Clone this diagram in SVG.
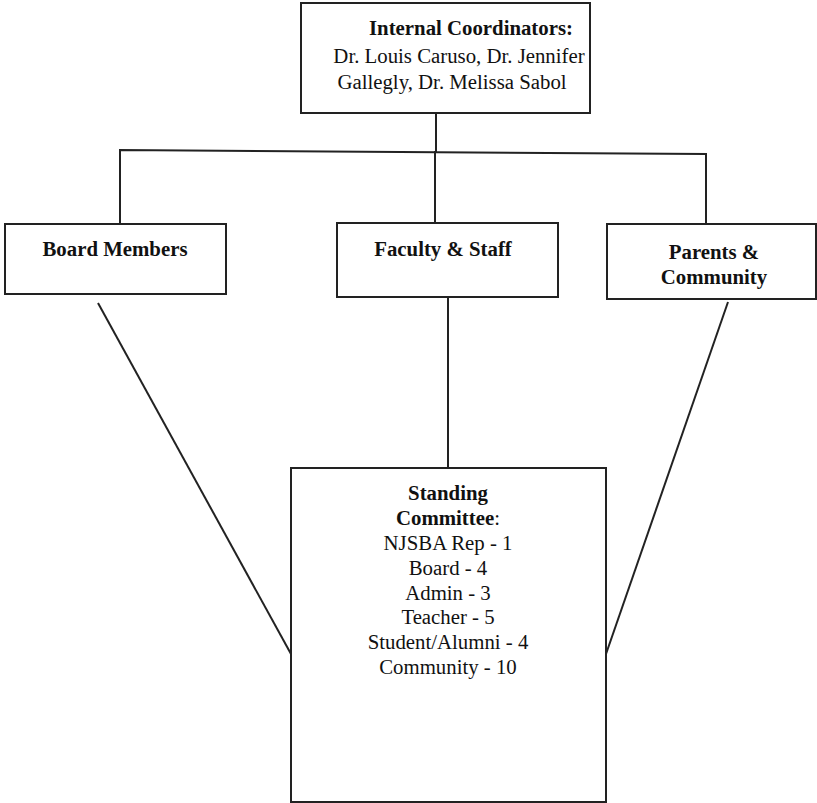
<svg xmlns="http://www.w3.org/2000/svg" width="817" height="803" viewBox="0 0 817 803">
<style>
.box{fill:#fff;stroke:#222;stroke-width:2}
.ln{fill:none;stroke:#222;stroke-width:2}
text{font-family:"Liberation Serif","Times New Roman",serif;font-size:20.8px;fill:#111;text-anchor:middle}
.b{font-weight:bold}
</style>
<rect width="817" height="803" fill="#fff"/>
<g id="connectors">
<line class="ln" x1="436" y1="113" x2="436" y2="152"/>
<polyline class="ln" points="120,224 120,150 706,154 706,224"/>
<line class="ln" x1="435" y1="151" x2="435" y2="223"/>
<line class="ln" x1="448" y1="297" x2="448" y2="468"/>
<line class="ln" x1="98" y1="303" x2="291" y2="654"/>
<line class="ln" x1="728" y1="302" x2="606" y2="654"/>
</g>
<g id="coordinators">
<rect class="box" x="301" y="3" width="289" height="110"/>
<text class="b" x="471" y="35">Internal Coordinators:</text>
<text x="459" y="63">Dr. Louis Caruso, Dr. Jennifer</text>
<text x="452" y="89">Gallegly, Dr. Melissa Sabol</text>
</g>
<g id="board">
<rect class="box" x="5" y="224" width="221" height="70"/>
<text class="b" x="115" y="256">Board Members</text>
</g>
<g id="faculty">
<rect class="box" x="337" y="223" width="221" height="74"/>
<text class="b" x="443" y="256">Faculty &amp; Staff</text>
</g>
<g id="parents">
<rect class="box" x="607" y="224" width="209" height="75"/>
<text class="b" x="714" y="259">Parents &amp;</text>
<text class="b" x="714" y="284">Community</text>
</g>
<g id="committee">
<rect class="box" x="291" y="468" width="315" height="334"/>
<text class="b" x="448" y="500">Standing</text>
<text x="448" y="525"><tspan class="b">Committee</tspan>:</text>
<text x="448" y="550">NJSBA Rep - 1</text>
<text x="448" y="575">Board - 4</text>
<text x="448" y="600">Admin - 3</text>
<text x="448" y="624">Teacher - 5</text>
<text x="448" y="649">Student/Alumni - 4</text>
<text x="448" y="674">Community - 10</text>
</g>
</svg>
